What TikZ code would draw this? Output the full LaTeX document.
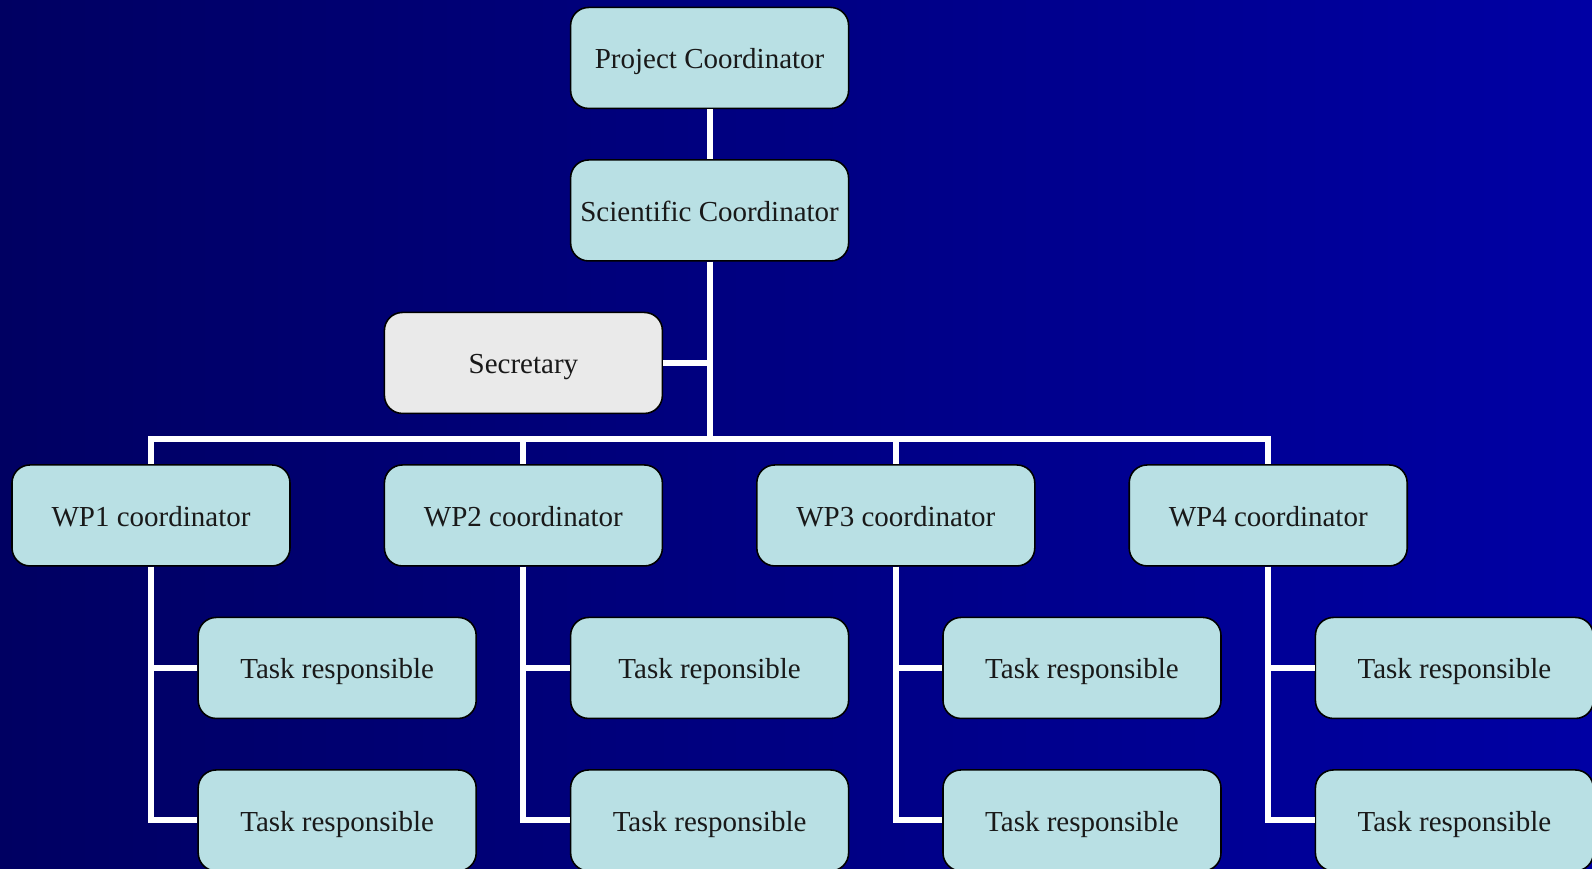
\documentclass[tikz,border=0pt]{standalone}
\usepackage{fontspec}
\setmainfont{Liberation Serif}
\definecolor{bgleft}{RGB}{0,0,98}
\definecolor{bgright}{RGB}{0,0,164}
\definecolor{boxfill}{RGB}{185,224,228}
\definecolor{secfill}{RGB}{234,234,234}
\tikzset{
  box/.style={draw=black, line width=0.9pt, rounded corners=0.36cm, fill=boxfill,
    minimum width=5.56cm, minimum height=2.02cm, text=black!90,
    text height=0.55cm, text depth=0.12cm,
    font=\fontsize{16.5}{20}\selectfont},
  link/.style={draw=white, line width=0.12cm}
}
\begin{document}
\begin{tikzpicture}[x=3.724cm, y=-3.05cm]
  \clip (-0.811,-0.380) rectangle (7.739,5.318);
  \shade[left color=bgleft, right color=bgright] (-0.811,-0.380) rectangle (7.739,5.318);
  % coordinators
  \node[box] (pc) at (3,0) {Project Coordinator};
  \node[box] (sc) at (3,1) {Scientific Coordinator};
  \node[box, fill=secfill] (sec) at (2,2) {Secretary};
  \coordinate (hub) at (3,2.5);
  % work packages and their tasks
  \foreach \i/\x/\t in {1/0/responsible, 2/2/reponsible, 3/4/responsible, 4/6/responsible} {
    \node[box] (wp\i) at (\x,3) {WP\i{} coordinator};
    \node[box] (ta\i) at (\x+1,4) {Task \t};
    \node[box] (tb\i) at (\x+1,5) {Task responsible};
  }
  % connectors
  \draw[link] (pc) -- (sc);
  \draw[link] (sc) -- (hub);
  \draw[link] (sec) -- (sec -| hub);
  \draw[link, line cap=rect] (wp1 |- hub) -- (wp4 |- hub);
  \foreach \i in {1,...,4} {
    \draw[link] (wp\i |- hub) -- (wp\i);
    \draw[link] (wp\i) |- (tb\i);
    \draw[link] (ta\i.west) -- (ta\i.west -| wp\i);
  }
\end{tikzpicture}
\end{document}
